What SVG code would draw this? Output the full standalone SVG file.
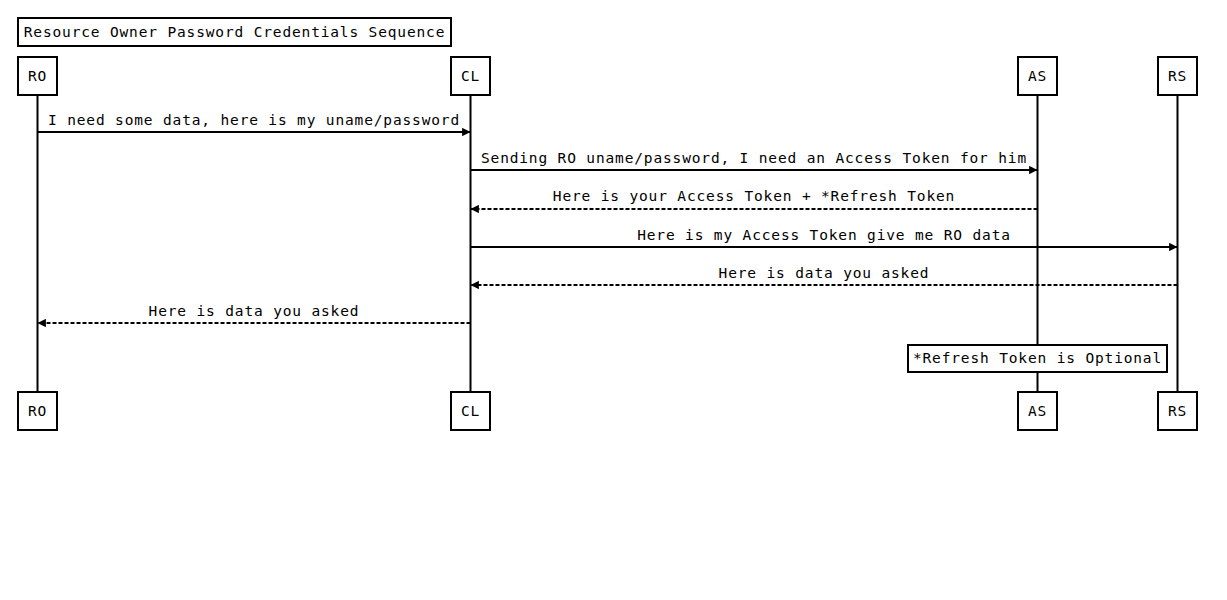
<svg xmlns="http://www.w3.org/2000/svg" width="1227" height="600" viewBox="0 0 1227 600">
<defs>
<style>
text{font-family:"DejaVu Sans Mono","Liberation Mono",monospace;font-size:14.5px;letter-spacing:0.85px;fill:#000;text-anchor:middle}
.box{fill:#fff;stroke:#000;stroke-width:2}
.life{stroke:#000;stroke-width:2}
.msg{stroke:#000;stroke-width:2;fill:none;marker-end:url(#ah)}
.dash{stroke-dasharray:4,2}
</style>
<marker id="ah" viewBox="0 0 10 10" refX="10" refY="5" markerWidth="4.2" markerHeight="4.2" orient="auto" markerUnits="strokeWidth">
<path d="M0,0 L10,5 L0,10 z" fill="#000"/>
</marker>
</defs>
<rect width="1227" height="600" fill="#fff"/>
<g id="title">
<rect class="box" x="18" y="18" width="433" height="28"/>
<text x="234.5" y="37">Resource Owner Password Credentials Sequence</text>
</g>
<g id="lifelines">
<line class="life" x1="37.5" y1="95" x2="37.5" y2="392"/>
<line class="life" x1="470.5" y1="95" x2="470.5" y2="392"/>
<line class="life" x1="1037.5" y1="95" x2="1037.5" y2="392"/>
<line class="life" x1="1177.5" y1="95" x2="1177.5" y2="392"/>
</g>
<g id="connectors">
<line class="msg" x1="37.5" y1="132" x2="470.5" y2="132"/>
<text x="254" y="125">I need some data, here is my uname/password</text>
<line class="msg" x1="470.5" y1="170" x2="1037.5" y2="170"/>
<text x="754" y="163">Sending RO uname/password, I need an Access Token for him</text>
<line class="msg dash" x1="1037.5" y1="209" x2="470.5" y2="209"/>
<text x="754" y="201">Here is your Access Token + *Refresh Token</text>
<line class="msg" x1="470.5" y1="247" x2="1177.5" y2="247"/>
<text x="824" y="240">Here is my Access Token give me RO data</text>
<line class="msg dash" x1="1177.5" y1="285" x2="470.5" y2="285"/>
<text x="824" y="278">Here is data you asked</text>
<line class="msg dash" x1="470.5" y1="323" x2="37.5" y2="323"/>
<text x="254" y="316">Here is data you asked</text>
</g>
<g id="note">
<rect class="box" x="908" y="345" width="259" height="27"/>
<text x="1037.5" y="363">*Refresh Token is Optional</text>
</g>
<g id="RO-top"><rect class="box" x="18" y="57" width="39" height="38"/><text x="37.5" y="81">RO</text></g>
<g id="CL-top"><rect class="box" x="451" y="57" width="39" height="38"/><text x="470.5" y="81">CL</text></g>
<g id="AS-top"><rect class="box" x="1018" y="57" width="39" height="38"/><text x="1037.5" y="81">AS</text></g>
<g id="RS-top"><rect class="box" x="1158" y="57" width="39" height="38"/><text x="1177.5" y="81">RS</text></g>
<g id="RO-bottom"><rect class="box" x="18" y="392" width="39" height="38"/><text x="37.5" y="416">RO</text></g>
<g id="CL-bottom"><rect class="box" x="451" y="392" width="39" height="38"/><text x="470.5" y="416">CL</text></g>
<g id="AS-bottom"><rect class="box" x="1018" y="392" width="39" height="38"/><text x="1037.5" y="416">AS</text></g>
<g id="RS-bottom"><rect class="box" x="1158" y="392" width="39" height="38"/><text x="1177.5" y="416">RS</text></g>
</svg>
